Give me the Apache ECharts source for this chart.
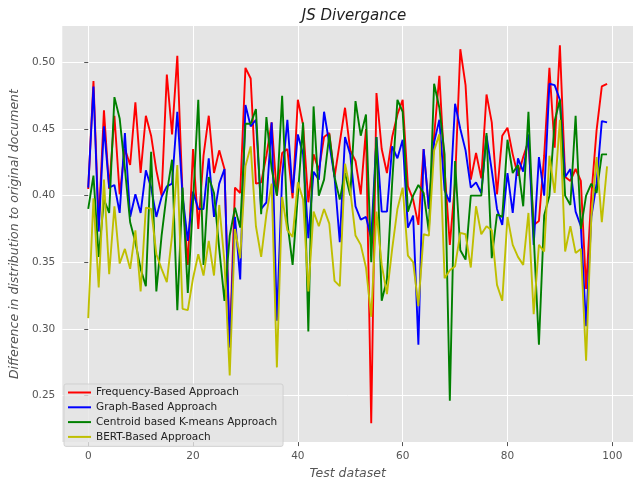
<!DOCTYPE html>
<html>
<head>
<meta charset="utf-8">
<script src="https://cdn.jsdelivr.net/npm/echarts@6/dist/echarts.min.js"></script>
<style>html,body{margin:0;padding:0;background:#fff;}#c{width:633px;height:485px;}</style>
</head>
<body>
<div id="c"></div>
<script>
const seriesNames = ["Frequency-Based Approach", "Graph-Based Approach", "Centroid based K-means Approach", "BERT-Based Approach"];
const xTicks = [0, 20, 40, 60, 80, 100];
const yTicks = [0.25, 0.30, 0.35, 0.40, 0.45, 0.50];
const yTickLabels = ["0.25", "0.30", "0.35", "0.40", "0.45", "0.50"];

const frequency = [0.405,0.486,0.378,0.464,0.405,0.460,0.401,0.435,0.423,0.470,
0.417,0.460,0.445,0.419,0.400,0.491,0.446,0.505,0.400,0.348,
0.435,0.375,0.430,0.460,0.417,0.434,0.420,0.286,0.406,0.402,
0.496,0.488,0.409,0.410,0.430,0.455,0.400,0.432,0.435,0.398,
0.472,0.453,0.395,0.431,0.419,0.444,0.447,0.414,0.440,0.466,
0.434,0.426,0.401,0.450,0.229,0.477,0.435,0.417,0.444,0.461,
0.472,0.407,0.397,0.378,0.435,0.390,0.445,0.490,0.420,0.363,
0.410,0.510,0.483,0.412,0.432,0.413,0.476,0.455,0.401,0.445,
0.451,0.431,0.415,0.429,0.441,0.378,0.381,0.430,0.496,0.436,
0.513,0.414,0.411,0.420,0.411,0.330,0.400,0.449,0.482,0.484];

const graph = [0.406,0.482,0.373,0.452,0.406,0.408,0.387,0.447,0.384,0.401,
0.387,0.419,0.406,0.384,0.399,0.407,0.409,0.463,0.400,0.366,
0.403,0.390,0.390,0.428,0.384,0.409,0.420,0.286,0.384,0.337,
0.468,0.452,0.457,0.390,0.395,0.455,0.306,0.414,0.457,0.402,
0.446,0.431,0.368,0.418,0.412,0.463,0.439,0.414,0.365,0.444,
0.431,0.392,0.382,0.384,0.368,0.444,0.388,0.388,0.437,0.428,
0.442,0.376,0.385,0.288,0.435,0.390,0.440,0.457,0.404,0.395,
0.469,0.450,0.434,0.406,0.410,0.402,0.445,0.419,0.390,0.378,
0.417,0.387,0.428,0.418,0.446,0.363,0.429,0.400,0.484,0.483,
0.472,0.414,0.420,0.388,0.377,0.302,0.384,0.409,0.456,0.455];

const centroid = [0.390,0.415,0.354,0.397,0.387,0.474,0.458,0.420,0.380,0.365,
0.345,0.332,0.433,0.328,0.370,0.402,0.427,0.314,0.406,0.327,
0.395,0.472,0.348,0.414,0.402,0.360,0.321,0.370,0.391,0.376,
0.454,0.454,0.465,0.386,0.459,0.420,0.400,0.475,0.380,0.348,
0.400,0.455,0.298,0.467,0.400,0.412,0.446,0.414,0.397,0.417,
0.400,0.471,0.445,0.461,0.350,0.444,0.321,0.337,0.410,0.472,
0.463,0.388,0.400,0.408,0.402,0.373,0.484,0.466,0.431,0.246,
0.426,0.359,0.352,0.400,0.400,0.400,0.447,0.353,0.386,0.384,
0.442,0.417,0.423,0.392,0.463,0.370,0.288,0.385,0.400,0.456,
0.472,0.400,0.393,0.460,0.375,0.400,0.409,0.402,0.431,0.431];

const bert = [0.308,0.398,0.331,0.412,0.341,0.392,0.349,0.360,0.345,0.374,
0.328,0.391,0.390,0.356,0.345,0.335,0.370,0.423,0.315,0.314,
0.338,0.356,0.340,0.366,0.340,0.393,0.350,0.265,0.375,0.353,
0.422,0.437,0.377,0.354,0.386,0.409,0.271,0.399,0.374,0.369,
0.410,0.397,0.328,0.388,0.377,0.390,0.379,0.336,0.332,0.424,
0.404,0.370,0.363,0.346,0.309,0.388,0.348,0.326,0.360,0.390,
0.406,0.355,0.350,0.317,0.371,0.370,0.434,0.446,0.338,0.344,
0.347,0.372,0.371,0.346,0.392,0.371,0.377,0.374,0.333,0.321,
0.384,0.363,0.354,0.348,0.387,0.311,0.363,0.358,0.430,0.402,
0.457,0.358,0.377,0.357,0.360,0.276,0.384,0.429,0.380,0.422];

const colors = ["#ff0000", "#0000ff", "#008000", "#bfbf00"];
const allData = [frequency, graph, centroid, bert];

const chart = echarts.init(document.getElementById('c'), null, {renderer: 'canvas'});
const font = "DejaVu Sans";
chart.setOption({
  animation: false,
  backgroundColor: '#ffffff',
  title: {
    text: 'JS Divergance',
    left: 349, top: 4, textAlign: 'center',
    textStyle: {fontFamily: font, fontStyle: 'italic', fontWeight: 'normal', fontSize: 15, color: '#222'}
  },
  grid: {left: 61, top: 26, width: 576, height: 425, backgroundColor: '#e5e5e5', show: true, borderWidth: 0},
  legend: {
    orient: 'vertical', left: 64, top: 384,
    data: seriesNames,
    icon: 'rect', itemWidth: 23, itemHeight: 2, itemGap: 1.8,
    padding: [2, 6, 3, 4],
    backgroundColor: 'rgba(229,229,229,0.8)', borderColor: 'rgba(204,204,204,0.8)', borderWidth: 1, borderRadius: 2,
    textStyle: {fontFamily: font, fontSize: 10.5, color: '#222', lineHeight: 13}
  },
  xAxis: {
    type: 'value', min: -4.95, max: 103.95,
    name: 'Test dataset', nameLocation: 'middle', nameGap: 23,
    nameTextStyle: {fontFamily: font, fontStyle: 'italic', fontSize: 12.5, color: '#555'},
    axisLine: {show: false},
    axisTick: {show: true, length: 4, lineStyle: {color: '#555', width: 1}, customValues: xTicks},
    axisLabel: {customValues: xTicks, margin: 9, fontFamily: font, fontSize: 10.5, color: '#555'},
    splitLine: {show: true, lineStyle: {color: '#ffffff', width: 1}}
  },
  yAxis: {
    type: 'value', min: 0.2149, max: 0.5274,
    name: 'Difference in distribution to original document', nameLocation: 'middle', nameGap: 40,
    nameTextStyle: {fontFamily: font, fontStyle: 'italic', fontSize: 12.5, color: '#555'},
    axisLine: {show: false},
    axisTick: {show: true, length: 4, lineStyle: {color: '#555', width: 1}, customValues: yTicks},
    axisLabel: {customValues: yTicks, margin: 7, fontFamily: font, fontSize: 10.5, color: '#555',
      formatter: v => { const i = yTicks.findIndex(t => Math.abs(t - v) < 1e-9); return i >= 0 ? yTickLabels[i] : ''; }},
    splitLine: {show: true, lineStyle: {color: '#ffffff', width: 1}}
  },
  series: seriesNames.map((n, k) => ({
    name: n, type: 'line', showSymbol: false, symbol: 'none',
    data: allData[k].map((v, i) => [i, v]),
    lineStyle: {color: colors[k], width: 1.9},
    itemStyle: {color: colors[k]},
    clip: true
  }))
});
</script>
</body>
</html>
